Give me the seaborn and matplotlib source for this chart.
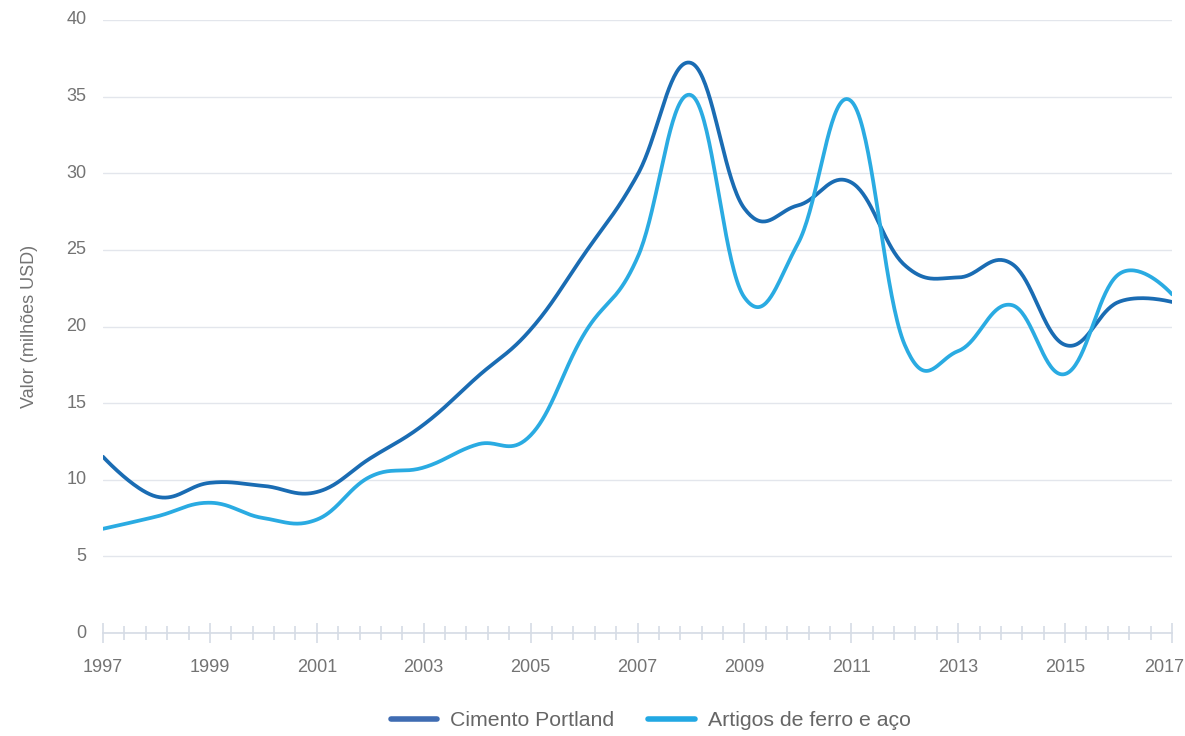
import numpy as np
import pandas as pd
import matplotlib
matplotlib.use("Agg")
import matplotlib.pyplot as plt
from matplotlib.lines import Line2D
import seaborn as sns

anos = list(range(1997, 2018))
cimento = [11.5, 8.9, 9.8, 9.6, 9.2, 11.4, 13.6, 16.7, 19.8, 24.7, 29.9, 37.2,
           27.7, 27.9, 29.4, 24.0, 23.2, 24.1, 18.8, 21.6, 21.6]
artigos = [6.8, 7.6, 8.5, 7.5, 7.4, 10.2, 10.8, 12.3, 12.9, 19.5, 24.5, 35.1,
           21.9, 25.4, 34.7, 18.8, 18.4, 21.4, 16.9, 23.4, 22.1]
series = ["Cimento Portland", "Artigos de ferro e aço"]
cores = {"Cimento Portland": "#1a6cb3", "Artigos de ferro e aço": "#2aabe2"}
cores_legenda = {"Cimento Portland": "#3f6cb2", "Artigos de ferro e aço": "#22a8e3"}


def spline_highcharts(x, y, n=40):
    # control points like a Highcharts "spline" series
    x = np.asarray(x, float)
    y = np.asarray(y, float)
    k = len(x)
    lx, ly, rx, ry = x.copy(), y.copy(), x.copy(), y.copy()
    s, d = 1.5, 2.5
    for i in range(1, k - 1):
        lcx = (s * x[i] + x[i - 1]) / d
        lcy = (s * y[i] + y[i - 1]) / d
        rcx = (s * x[i] + x[i + 1]) / d
        rcy = (s * y[i] + y[i + 1]) / d
        corr = ((rcy - lcy) * (rcx - x[i])) / (rcx - lcx) + y[i] - rcy
        lx[i], ly[i], rx[i], ry[i] = lcx, lcy + corr, rcx, rcy + corr
    xs, ys = [], []
    t = np.linspace(0, 1, n, endpoint=False)
    for i in range(1, k):
        p0 = np.array([x[i - 1], y[i - 1]])
        p1 = np.array([rx[i - 1], ry[i - 1]])
        p2 = np.array([lx[i], ly[i]])
        p3 = np.array([x[i], y[i]])
        b = ((1 - t) ** 3)[:, None] * p0 + (3 * (1 - t) ** 2 * t)[:, None] * p1 \
            + (3 * (1 - t) * t ** 2)[:, None] * p2 + (t ** 3)[:, None] * p3
        xs.extend(b[:, 0]); ys.extend(b[:, 1])
    xs.append(x[-1]); ys.append(y[-1])
    return np.array(xs), np.array(ys)


partes = []
for nome, vals in zip(series, [cimento, artigos]):
    sx, sy = spline_highcharts(anos, vals)
    partes.append(pd.DataFrame({"ano": sx, "valor": sy, "serie": nome}))
df = pd.concat(partes, ignore_index=True)

sns.set_style("white")
plt.rcParams["font.family"] = ["Liberation Sans", "DejaVu Sans"]
cinza = "#737373"
eixo = "#d5dbe5"

fig = plt.figure(figsize=(11.85, 7.36), dpi=100)
ax = fig.add_axes([103 / 1185, 1 - 633 / 736, (1172 - 103) / 1185, (633 - 20) / 736])

sns.lineplot(data=df, x="ano", y="valor", hue="serie", palette=cores,
             estimator=None, sort=False, linewidth=2.7, ax=ax, legend=False)

ax.set_xlim(1997, 2017)
ax.set_ylim(0, 40)
ax.set_yticks(range(0, 45, 5))
rotulos = list(range(1997, 2018, 2))
ax.set_xticks(rotulos)
ax.set_xticklabels([str(a) if a != 2017 else "" for a in rotulos])
ax.set_xticks(np.linspace(1997, 2017, 51), minor=True)
ax.grid(axis="y", color="#e3e6ec", linewidth=1)
ax.set_axisbelow(True)
for lado in ["top", "right", "left"]:
    ax.spines[lado].set_visible(False)
ax.spines["bottom"].set_color(eixo)
ax.spines["bottom"].set_linewidth(1.2)
ax.tick_params(axis="y", left=False, length=0, labelsize=13, labelcolor=cinza, pad=12)
ax.tick_params(axis="x", which="major", bottom=True, direction="inout", length=15,
               width=1.2, color=eixo, labelsize=13, labelcolor=cinza, pad=11)
ax.tick_params(axis="x", which="minor", bottom=True, direction="inout", length=10,
               width=1.2, color=eixo)
for yl in ax.get_yticklabels():
    yl.set_verticalalignment("center")
# last year label is pushed inside the figure edge, as in the original
ax.annotate("2017", xy=(2017, 0), xycoords=("data", "axes fraction"),
            xytext=(9, -18.5), textcoords="offset points", ha="right", va="top",
            fontsize=13, color=cinza)
ax.set_xlabel("")
ax.set_ylabel("Valor (milhões USD)", fontsize=13, color=cinza, labelpad=20)

alcas = [Line2D([0], [0], color=cores_legenda[s], linewidth=4) for s in series]
fig.legend(alcas, series, loc="lower center", bbox_to_anchor=(0.549, -0.018), ncol=2,
           frameon=False, fontsize=15.3, handlelength=2.2, columnspacing=1.6,
           handletextpad=0.6, labelcolor="#666666")

fig.savefig("out.png", dpi=100)
